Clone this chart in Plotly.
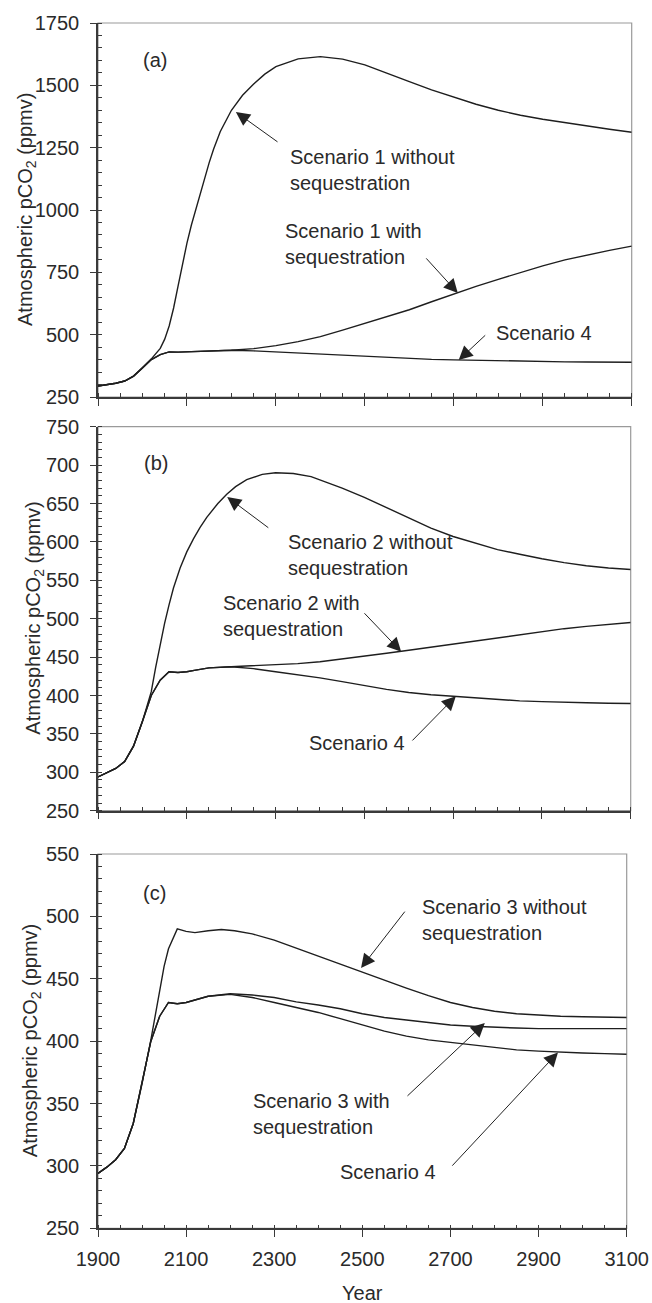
import plotly.graph_objects as go

# ---------------- data ----------------
years_base = [1900, 1920, 1940, 1960, 1980, 2000, 2020, 2040, 2060, 2080, 2100, 2120, 2150,
              2200, 2250, 2300, 2350, 2400, 2450, 2500, 2550, 2600, 2650, 2700, 2750, 2800,
              2850, 2900, 2950, 3000, 3050, 3100]

scenario4 = [294, 299, 305, 314, 334, 366, 400, 420, 431, 430, 431, 433, 436,
             437.5, 435, 431, 427, 423, 418, 413, 408, 404, 401, 399, 397, 395,
             393, 392, 391, 390.5, 390, 389.5]

s1_years = [1900, 1920, 1940, 1960, 1980, 2000, 2020, 2040, 2050, 2060, 2070, 2080, 2090, 2100,
            2110, 2120, 2130, 2140, 2150, 2160, 2175, 2200, 2225, 2250, 2275, 2300, 2350, 2400,
            2450, 2500, 2550, 2600, 2650, 2700, 2750, 2800, 2850, 2900, 2950, 3000, 3050, 3100]
s1_without = [294, 299, 305, 314, 334, 368, 403, 445, 482, 535, 607, 695, 785, 867,
              940, 1005, 1070, 1130, 1190, 1245, 1315, 1400, 1460, 1505, 1545, 1575, 1606, 1615,
              1605, 1582, 1550, 1515, 1482, 1452, 1424, 1400, 1380, 1364, 1350, 1337, 1324, 1312]

s1_with = [294, 299, 305, 314, 334, 366, 400, 420, 431, 430, 431, 433, 436,
           437.5, 444, 456, 472, 492, 518, 545, 572, 600, 632, 664, 694, 722,
           750, 776, 800, 820, 838, 855]

s2_years = [1900, 1920, 1940, 1960, 1980, 2000, 2020, 2030, 2040, 2050, 2060, 2070, 2085, 2100,
            2115, 2130, 2145, 2170, 2190, 2210, 2235, 2270, 2300, 2340, 2380, 2400, 2450, 2500,
            2550, 2600, 2650, 2700, 2750, 2800, 2850, 2900, 2950, 3000, 3050, 3100]
s2_without = [294, 299, 305, 314, 334, 366, 405, 437, 467, 494, 518, 540, 566, 587,
              604, 619, 632, 650, 662, 672, 681, 688, 690, 689, 685, 681, 670, 658,
              645, 631, 618, 607, 598, 590, 584, 578, 573, 569, 566, 564]

s2_with = [294, 299, 305, 314, 334, 366, 400, 420, 431, 430, 431, 433, 436,
           437.5, 439, 440, 441.5, 444, 447.5, 451, 455, 459, 463, 467, 471, 475,
           479, 483, 487, 490, 492.5, 495]

s3_years = [1900, 1920, 1940, 1960, 1980, 2000, 2020, 2030, 2040, 2050, 2060, 2080, 2100, 2120,
            2150, 2180, 2210, 2250, 2300, 2350, 2400, 2450, 2500, 2550, 2600, 2650, 2700, 2750,
            2800, 2850, 2900, 2950, 3000, 3050, 3100]
s3_without = [294, 299, 305, 314, 334, 366, 401, 420, 440, 460, 474, 490, 488, 487,
              488.5, 489.5, 488.5, 486, 481, 474.5, 468, 462, 455.5, 449, 442.5, 436.5, 431, 427,
              424, 422, 420.7, 420, 419.5, 419.2, 419]

s3_with = [294, 299, 305, 314, 334, 366, 400, 420, 431, 430, 431, 433, 436,
           438, 437, 435, 431.5, 429, 426, 422, 419, 417, 415, 413, 412, 411,
           410.5, 410, 410, 410, 410, 410]

y_ranges = [[250, 1750], [250, 750], [250, 550]]
y_dticks = [250, 50, 50]
y_minor = [50, 10, 10]
x_range = [1900, 3100]
x_ticks = [1900, 2100, 2300, 2500, 2700, 2900, 3100]

# ---------------- style ----------------
FONT = "Liberation Sans, Arial, Helvetica, sans-serif"
TXT = "#2a2a2a"
LINE = "#1e1e1e"
AX = "#3a3a3a"
W, H = 652, 1303

x_dom = [[98 / W, 631.7 / W], [98 / W, 630.7 / W], [98 / W, 626.7 / W]]
y_dom = [[1 - 397 / H, 1 - 23 / H], [1 - 810.7 / H, 1 - 426.7 / H], [1 - 1228.3 / H, 1 - 854 / H]]

fig = go.Figure()

def add_line(x, y, k):
    fig.add_trace(go.Scatter(x=x, y=y, mode="lines", line=dict(color=LINE, width=1.4),
                             xaxis=f"x{k if k > 1 else ''}", yaxis=f"y{k if k > 1 else ''}",
                             showlegend=False, hoverinfo="skip"))

add_line(s1_years, s1_without, 1)
add_line(years_base, s1_with, 1)
add_line(years_base, scenario4, 1)
add_line(s2_years, s2_without, 2)
add_line(years_base, s2_with, 2)
add_line(years_base, scenario4, 2)
add_line(s3_years, s3_without, 3)
add_line(years_base, s3_with, 3)
add_line(years_base, scenario4, 3)

layout = dict(template="none", width=W, height=H, margin=dict(l=0, r=0, t=0, b=0, autoexpand=False),
              autosize=False, paper_bgcolor="white", plot_bgcolor="white",
              font=dict(family=FONT, size=20, color=TXT), showlegend=False)

for i in range(3):
    k = i + 1
    sx = "" if k == 1 else str(k)
    layout[f"xaxis{sx}"] = dict(
        domain=x_dom[i], range=x_range, anchor=f"y{sx}", tickvals=x_ticks, automargin=False,
        showticklabels=(k == 3), ticks="outside", ticklen=7, tickwidth=1, tickcolor=AX,
        minor=dict(ticks="inside", dtick=50, tick0=1900, ticklen=4, tickwidth=1, tickcolor=AX,
                   showgrid=False),
        showline=True, linecolor=AX, linewidth=1.5, showgrid=False, zeroline=False,
        tickfont=dict(size=20, color=TXT), ticklabelstandoff=5)
    layout[f"yaxis{sx}"] = dict(
        domain=y_dom[i], range=y_ranges[i], anchor=f"x{sx}", dtick=y_dticks[i], tick0=250,
        automargin=False, ticks="outside", ticklen=6, tickwidth=1, tickcolor=AX,
        minor=dict(ticks="inside", dtick=y_minor[i], tick0=250, ticklen=4, tickwidth=1,
                   tickcolor=AX, showgrid=False),
        showline=True, linecolor=AX, linewidth=1.5, showgrid=False, zeroline=False,
        tickfont=dict(size=20, color=TXT), ticklabelstandoff=7)
    # overlay axes: the inner half of the major ticks
    layout[f"xaxis{k + 3}"] = dict(overlaying=f"x{sx}", anchor=f"y{sx}", range=x_range,
                                   tickvals=x_ticks, ticks="inside", ticklen=4, tickwidth=1,
                                   tickcolor=AX, showticklabels=False, showline=False,
                                   showgrid=False, zeroline=False, side="bottom", automargin=False)
    layout[f"yaxis{k + 3}"] = dict(overlaying=f"y{sx}", anchor=f"x{sx}", range=y_ranges[i],
                                   dtick=y_dticks[i], tick0=250, ticks="inside", ticklen=3,
                                   tickwidth=1, tickcolor=AX, showticklabels=False,
                                   showline=False, showgrid=False, zeroline=False, side="left",
                                   automargin=False)

fig.update_layout(**layout)

# grey frame (top/right)
for i in range(3):
    sx = "" if i == 0 else str(i + 1)
    fig.add_shape(type="rect", xref=f"x{sx} domain", yref=f"y{sx} domain", x0=0, x1=1, y0=0, y1=1,
                  line=dict(color="#9a9a9a", width=1.2), layer="below")

# panel letters
panel_labels = [("(a)", 2028, 1602, 1), ("(b)", 2031, 703, 2), ("(c)", 2029, 519, 3)]
for t, xv, yv, k in panel_labels:
    sx = "" if k == 1 else str(k)
    fig.add_annotation(text=t, x=xv, y=yv, xref=f"x{sx}", yref=f"y{sx}", showarrow=False,
                       font=dict(size=20, color=TXT))

# text labels: (text, x, y, panel)
labels = [
    ("Scenario 1 without<br>sequestration", 2327, 1160, 1),
    ("Scenario 1 with<br>sequestration", 2316, 864, 1),
    ("Scenario 4", 2790, 507, 1),
    ("Scenario 2 without<br>sequestration", 2324, 583, 2),
    ("Scenario 2 with<br>sequestration", 2177, 503.5, 2),
    ("Scenario 4", 2371, 338, 2),
    ("Scenario 3 without<br>sequestration", 2630, 497, 3),
    ("Scenario 3 with<br>sequestration", 2247, 342, 3),
    ("Scenario 4", 2444, 295, 3),
]
for t, xv, yv, k in labels:
    sx = "" if k == 1 else str(k)
    fig.add_annotation(text=t, x=xv, y=yv, xref=f"x{sx}", yref=f"y{sx}", showarrow=False,
                       xanchor="left", yanchor="middle", align="left",
                       font=dict(size=20, color=TXT))

# arrows: (tip x, tip y, tail x, tail y, panel)
arrows = [
    (2210, 1393, 2307, 1269, 1),
    (2709, 667, 2635, 812, 1),
    (2711, 398, 2774, 503, 1),
    (2191, 658.5, 2287, 617, 2),
    (2583, 457, 2497, 509, 2),
    (2706, 399, 2605, 339.5, 2),
    (2497, 458.6, 2599, 505, 3),
    (2778, 414.5, 2599, 355, 3),
    (2944, 391, 2701, 299, 3),
]
for xt, yt, xs, ys, k in arrows:
    sx = "" if k == 1 else str(k)
    fig.add_annotation(text="", x=xt, y=yt, ax=xs, ay=ys, xref=f"x{sx}", yref=f"y{sx}",
                       axref=f"x{sx}", ayref=f"y{sx}", showarrow=True, arrowhead=2,
                       arrowsize=2.8, arrowwidth=1, arrowcolor="#222", standoff=0)

# y-axis titles
title_x = [26, 35, 31]
for i in range(3):
    ymid = (y_dom[i][0] + y_dom[i][1]) / 2
    fig.add_annotation(text="Atmospheric pCO<sub>2</sub> (ppmv)", x=title_x[i] / W, y=ymid,
                       xref="paper", yref="paper", textangle=-90, showarrow=False,
                       xanchor="center", yanchor="middle", font=dict(size=20, color=TXT))

# x-axis title
fig.add_annotation(text="Year", x=362.5 / W, y=1 - 1293 / H, xref="paper", yref="paper",
                   showarrow=False, xanchor="center", yanchor="middle",
                   font=dict(size=20, color=TXT))

fig.write_html("out.html", config={"displayModeBar": False},
               post_script="document.body.style.margin='0';")
